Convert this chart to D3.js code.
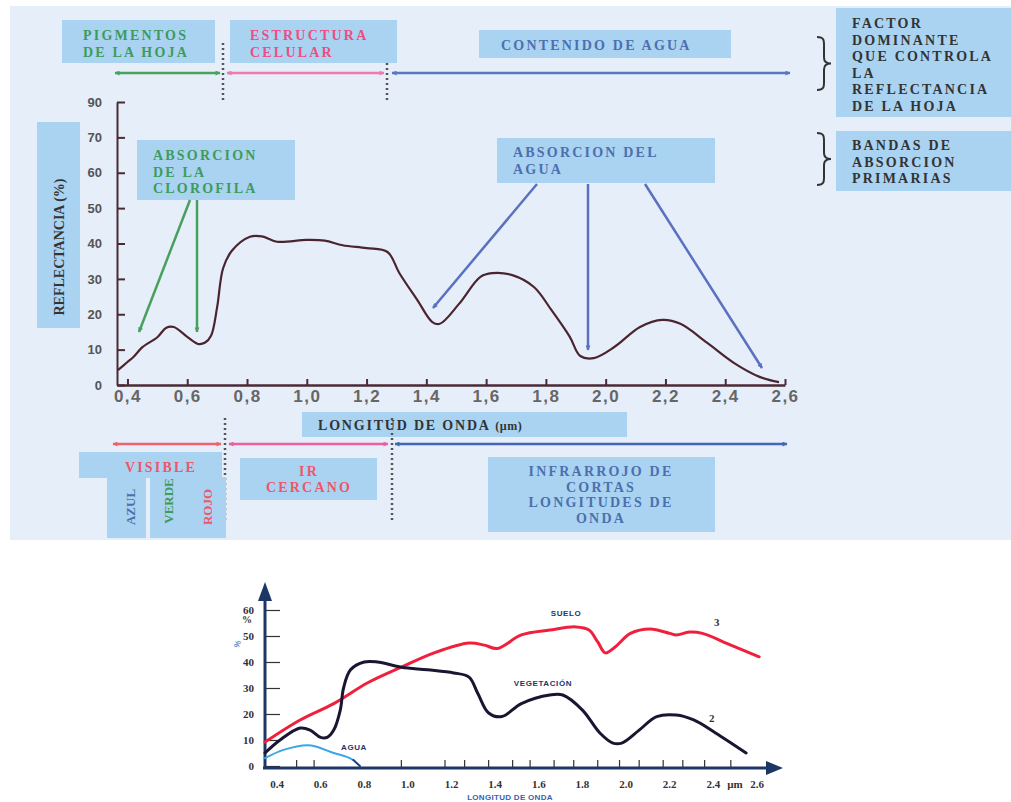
<!DOCTYPE html>
<html>
<head>
<meta charset="utf-8">
<script src="https://cdn.jsdelivr.net/npm/d3@7"></script>
<style>
  body { margin: 0; background: #fff; }
  svg { display: block; }
</style>
</head>
<body>
<div id="chart"></div>
<script>
// ---- datos del grafico superior (reflectancia de la hoja) ----
const hojaLongitud = [0.368, 0.40, 0.42, 0.45, 0.50, 0.53, 0.555, 0.60, 0.636, 0.66, 0.68, 0.70, 0.72, 0.75,
  0.81, 0.85, 0.90, 1.00, 1.06, 1.12, 1.20, 1.27, 1.31, 1.37, 1.42, 1.445, 1.51, 1.58, 1.62, 1.69,
  1.76, 1.82, 1.88, 1.915, 1.96, 2.03, 2.115, 2.19, 2.25, 2.34, 2.43, 2.515, 2.58];
const hojaReflectancia = [4.2, 6.5, 7.9, 10.7, 13.5, 16.2, 16.4, 13.6, 11.6, 12.0, 14, 22, 33, 38,
  41.9, 42, 40.5, 41, 40.8, 39.5, 38.7, 37.6, 31.6, 24, 17.8, 17.3, 23, 30.5, 31.6, 31,
  27.7, 21, 13.6, 8.2, 7.6, 10.8, 16.4, 18.4, 17.3, 11.9, 6.2, 2.3, 0.8];

const yTicks = [0, 10, 20, 30, 40, 50, 60, 70, 80];
const yTickLabels = ["0", "10", "20", "30", "40", "50", "60", "70", "90"];
const xTicks = [0.4, 0.6, 0.8, 1.0, 1.2, 1.4, 1.6, 1.8, 2.0, 2.2, 2.4, 2.6];
const xTickLabels = ["0,4", "0,6", "0,8", "1,0", "1,2", "1,4", "1,6", "1,8", "2,0", "2,2", "2,4", "2,6"];

// ---- datos del grafico inferior (suelo, vegetacion, agua) ----
const sueloLongitud = [0.345, 0.506, 0.66, 0.816, 0.97, 1.12, 1.28, 1.35, 1.41, 1.52, 1.65, 1.77, 1.83, 1.87,
  1.905, 1.95, 2.02, 2.11, 2.20, 2.23, 2.29, 2.35, 2.48, 2.61];
const sueloValor = [9.2, 17.7, 24, 32, 38, 43.5, 47.3, 46.5, 45.2, 50.4, 52.3, 53.5, 52.3, 47.7,
  43.5, 45.8, 51, 52.7, 51, 50.4, 51.5, 51, 46.5, 42];
const vegLongitud = [0.345, 0.414, 0.506, 0.552, 0.60, 0.63, 0.66, 0.69, 0.705, 0.737, 0.80, 0.86, 0.97, 1.09,
  1.21, 1.28, 1.32, 1.37, 1.43, 1.52, 1.65, 1.71, 1.80, 1.88, 1.94, 1.98, 2.06, 2.14, 2.23, 2.31, 2.41, 2.55];
const vegValor = [5, 10, 14.6, 13.8, 11, 11, 13.8, 21.5, 30, 37, 40, 40, 38, 37,
  35.8, 34.2, 28, 20.4, 19, 24, 27.3, 27.3, 21.5, 12.7, 8.8, 8.8, 13.8, 19, 19.6, 17.7, 12.7, 5];
const aguaLongitud = [0.345, 0.43, 0.54, 0.585, 0.66, 0.72, 0.75];
const aguaValor = [3, 6.2, 8, 7.3, 5, 3.5, 2.3];
const aguaFinLongitud = [0.75, 0.78];
const aguaFinValor = [2.3, 0];

const y2Ticks = [0, 10, 20, 30, 40, 50, 60];
const x2Ticks = [0.4, 0.6, 0.8, 1.0, 1.2, 1.4, 1.6, 1.8, 2.0, 2.2, 2.4, 2.6];
const x2TickLabels = ["0.4", "0.6", "0.8", "1.0", "1.2", "1.4", "1.6", "1.8", "2.0", "2.2", "2.4", "2.6"];
const x2Menores = [0.49, 0.57, 0.97, 1.17, 1.26, 1.37, 1.48, 1.56, 1.67, 1.76, 1.87, 1.97, 2.06, 2.17, 2.26, 2.36, 2.48];

const width = 1011, height = 802;
const caja = "#a9d3f1";
const serif = "'Liberation Serif', 'DejaVu Serif', serif";
const sans = "'Liberation Sans', Arial, sans-serif";

const svg = d3.select("#chart").append("svg")
  .attr("width", width)
  .attr("height", height);

// fondo del grafico superior
svg.append("rect")
  .attr("x", 10).attr("y", 6).attr("width", 1001).attr("height", 534)
  .attr("fill", "#e6eef9");

const defs = svg.append("defs");
function flecha(id, color) {
  defs.append("marker")
    .attr("id", id)
    .attr("viewBox", "0 0 10 10")
    .attr("refX", 9).attr("refY", 5)
    .attr("markerWidth", 6).attr("markerHeight", 5)
    .attr("markerUnits", "userSpaceOnUse")
    .attr("orient", "auto-start-reverse")
    .append("path")
    .attr("d", "M0,0 L10,5 L0,10 z")
    .attr("fill", color);
}

function rect(x, y, w, h) {
  svg.append("rect")
    .attr("x", x).attr("y", y).attr("width", w).attr("height", h)
    .attr("fill", caja);
}

function texto(lineas, x, y, color, opts = {}) {
  const t = svg.append("text")
    .attr("x", x).attr("y", y)
    .attr("fill", color)
    .attr("font-family", serif)
    .attr("font-weight", "bold")
    .attr("font-size", (opts.size || 14) + "px")
    .attr("letter-spacing", opts.spacing == null ? 2.2 : opts.spacing)
    .attr("text-anchor", opts.anchor || "start");
  lineas.forEach((l, i) => {
    t.append("tspan").attr("x", x).attr("y", y + i * (opts.lh || 16.5)).text(l);
  });
  return t;
}

function doble(x1, x2, y, color, id) {
  flecha(id, color);
  svg.append("line")
    .attr("x1", x1).attr("x2", x2).attr("y1", y).attr("y2", y)
    .attr("stroke", color).attr("stroke-width", 2.5)
    .attr("marker-start", `url(#${id})`)
    .attr("marker-end", `url(#${id})`);
}

function punteada(x, y1, y2) {
  svg.append("line")
    .attr("x1", x).attr("x2", x).attr("y1", y1).attr("y2", y2)
    .attr("stroke", "#555").attr("stroke-width", 2.5)
    .attr("stroke-dasharray", "2,3");
}

function llave(x, y0, y1) {
  const ym = (y0 + y1) / 2;
  svg.append("path")
    .attr("d", `M${x},${y0} C${x + 8},${y0} ${x + 7},${y0 + 4} ${x + 7},${y0 + 12} L${x + 7},${ym - 6}
      C${x + 7},${ym - 1} ${x + 10},${ym} ${x + 14},${ym} C${x + 10},${ym} ${x + 7},${ym + 1} ${x + 7},${ym + 6}
      L${x + 7},${y1 - 12} C${x + 7},${y1 - 4} ${x + 8},${y1} ${x},${y1}`)
    .attr("fill", "none").attr("stroke", "#333").attr("stroke-width", 2);
}

function apunta(x1, y1, x2, y2, color, id) {
  flecha(id, color);
  svg.append("line")
    .attr("x1", x1).attr("y1", y1).attr("x2", x2).attr("y2", y2)
    .attr("stroke", color).attr("stroke-width", 2.5)
    .attr("marker-end", `url(#${id})`);
}

// ---- cabecera ----
rect(62, 20, 153, 43);
texto(["PIGMENTOS", "DE LA HOJA"], 83, 40, "#3f9b5c");
rect(230, 20, 167, 43);
texto(["ESTRUCTURA", "CELULAR"], 250, 40, "#ee4d84");
rect(479, 30, 252, 28);
texto(["CONTENIDO DE AGUA"], 501, 50, "#4d6fae");
rect(836, 8, 175, 109);
texto(["FACTOR", "DOMINANTE", "QUE CONTROLA", "LA", "REFLECTANCIA", "DE LA HOJA"], 852, 28, "#333");
rect(836, 131, 175, 60);
texto(["BANDAS DE", "ABSORCION", "PRIMARIAS"], 852, 150, "#333");
llave(817, 37, 90);
llave(817, 133, 185);

doble(115, 220, 73, "#4aa35c", "fVerde");
doble(227, 384, 73, "#f07aaf", "fRosa");
doble(392, 790, 73, "#5a78c0", "fAzul");
punteada(223, 43, 100);
punteada(387, 63, 100);

// ---- grafico superior ----
const x = d3.scaleLinear().domain([0.365, 2.6]).range([117, 785]);
const y = d3.scaleLinear().domain([0, 80]).range([385, 102]);
const ejeColor = "#4a2a35";

rect(37, 122, 43, 206);
svg.append("text")
  .attr("transform", "translate(64,247) rotate(-90)")
  .attr("text-anchor", "middle")
  .attr("font-family", serif).attr("font-weight", "bold").attr("font-size", "14px")
  .attr("fill", "#333")
  .text("REFLECTANCIA (%)");

const gy = svg.append("g")
  .attr("transform", "translate(117,0)")
  .call(d3.axisLeft(y).tickValues(yTicks).tickSize(-8).tickSizeOuter(0).tickPadding(15)
    .tickFormat((d, i) => yTickLabels[i]));
gy.select(".domain").attr("stroke", ejeColor).attr("stroke-width", 2);
gy.selectAll(".tick line").attr("stroke", ejeColor).attr("stroke-width", 2);
gy.selectAll(".tick text").attr("font-family", sans).attr("font-weight", "bold")
  .attr("font-size", "13px").attr("fill", "#555");

const gx = svg.append("g")
  .attr("transform", "translate(0,385)")
  .call(d3.axisBottom(x).tickValues(xTicks).tickSize(-6).tickSizeOuter(0).tickPadding(5)
    .tickFormat((d, i) => xTickLabels[i]));
gx.select(".domain").attr("stroke", ejeColor).attr("stroke-width", 2.5);
gx.selectAll(".tick line").attr("stroke", ejeColor).attr("stroke-width", 2);
gx.selectAll(".tick text").attr("font-family", sans).attr("font-weight", "bold")
  .attr("font-size", "17px").attr("letter-spacing", 1.5).attr("fill", "#666");

const linea = d3.line()
  .x(d => x(d[0]))
  .y(d => y(d[1]))
  .curve(d3.curveCatmullRom);

svg.append("path")
  .datum(d3.zip(hojaLongitud, hojaReflectancia))
  .attr("d", linea)
  .attr("fill", "none")
  .attr("stroke", "#4a2530")
  .attr("stroke-width", 2.2);

// anotaciones
rect(137, 140, 158, 60);
texto(["ABSORCION", "DE LA", "CLOROFILA"], 153, 160, "#3f9b5c");
apunta(190, 200, 139, 332, "#48a05e", "fClo1");
apunta(197, 200, 197, 332, "#48a05e", "fClo2");

rect(497, 138, 218, 45);
texto(["ABSORCION DEL", "AGUA"], 513, 157, "#4d6fae");
apunta(537, 184, 433, 308, "#5a70c0", "fAg1");
apunta(588, 184, 588, 350, "#5a70c0", "fAg2");
apunta(645, 184, 762, 368, "#5a70c0", "fAg3");

// ---- etiquetas bajo el eje ----
rect(302, 412, 325, 25);
const lon = texto(["LONGITUD DE ONDA "], 318, 430, "#333", { spacing: 1.8 });
lon.append("tspan").attr("font-size", "12px").attr("letter-spacing", 0.5).text(" (\u00b5m)");

doble(113, 221, 444, "#f06070", "fRojo");
doble(229, 388, 444, "#ec5fa0", "fRosa2");
doble(395, 787, 444, "#4466b8", "fAzul2");
punteada(225, 418, 522);
punteada(392, 418, 522);

rect(79, 452, 143, 26);
rect(107, 477, 39, 61);
rect(150, 477, 76, 61);
texto(["VISIBLE"], 161, 472, "#f0566a", { anchor: "middle" });
[["AZUL", 130, 507, "#4d6fae"], ["VERDE", 168, 501, "#3f9b5c"], ["ROJO", 207, 507, "#f0566a"]].forEach(([t, cx, cy, c]) => {
  svg.append("text")
    .attr("transform", `translate(${cx + 5},${cy}) rotate(-90)`)
    .attr("text-anchor", "middle")
    .attr("font-family", serif).attr("font-weight", "bold").attr("font-size", "13px")
    .attr("fill", c)
    .text(t);
});

rect(240, 458, 137, 42);
texto(["IR", "CERCANO"], 309, 476, "#f0566a", { anchor: "middle", lh: 16 });
rect(488, 457, 227, 75);
texto(["INFRARROJO DE", "CORTAS", "LONGITUDES DE", "ONDA"], 601, 476, "#4d6fae", { anchor: "middle", lh: 15.7 });

// ---- grafico inferior ----
const x2 = d3.scaleLinear().domain([0.345, 2.6]).range([265, 757]);
const y2 = d3.scaleLinear().domain([0, 60]).range([766, 610]);
const navy = "#1c3766";

const gy2 = svg.append("g")
  .attr("transform", "translate(265,0)")
  .call(d3.axisLeft(y2).tickValues(y2Ticks).tickSize(-15).tickSizeOuter(0).tickPadding(11));
gy2.select(".domain").remove();
gy2.selectAll(".tick line").attr("stroke", "#333").attr("stroke-width", 1.2);
gy2.selectAll(".tick text").attr("font-family", serif).attr("font-weight", "bold")
  .attr("font-size", "11px").attr("fill", "#333");

// ejes con flecha
svg.append("line").attr("x1", 265).attr("x2", 265).attr("y1", 769).attr("y2", 598)
  .attr("stroke", navy).attr("stroke-width", 3);
svg.append("path").attr("d", "M258,601 L265,582 L272,601 Z").attr("fill", navy);
svg.append("line").attr("x1", 263).attr("x2", 768).attr("y1", 768).attr("y2", 768)
  .attr("stroke", navy).attr("stroke-width", 3);
svg.append("path").attr("d", "M766,761 L783,768 L766,775 Z").attr("fill", navy);

svg.selectAll(".menor").data(x2Menores).join("line")
  .attr("class", "menor")
  .attr("x1", d => x2(d)).attr("x2", d => x2(d))
  .attr("y1", 760).attr("y2", 767)
  .attr("stroke", "#333").attr("stroke-width", 1.2);

svg.selectAll(".x2lab").data(x2Ticks).join("text")
  .attr("class", "x2lab")
  .attr("x", d => x2(d)).attr("y", 788)
  .attr("text-anchor", "middle")
  .attr("font-family", serif).attr("font-weight", "bold").attr("font-size", "11px")
  .attr("fill", "#333")
  .text((d, i) => x2TickLabels[i]);

svg.append("text").attr("x", 735).attr("y", 788).attr("text-anchor", "middle")
  .attr("font-family", serif).attr("font-weight", "bold").attr("font-size", "11px")
  .attr("fill", "#333").text("\u00b5m");
svg.append("text").attr("x", 247).attr("y", 623).attr("text-anchor", "middle")
  .attr("font-family", serif).attr("font-weight", "bold").attr("font-size", "10px")
  .attr("fill", "#333").text("%");
svg.append("text").attr("transform", "translate(240,645) rotate(-70)").attr("text-anchor", "middle")
  .attr("font-family", sans).attr("font-size", "8px")
  .attr("fill", "#3a60b0").text("%");
svg.append("text").attr("x", 510).attr("y", 800).attr("text-anchor", "middle")
  .attr("font-family", sans).attr("font-weight", "bold").attr("font-size", "8px")
  .attr("letter-spacing", 0.3).attr("fill", "#3a5fb0").text("LONGITUD DE ONDA");

const linea2 = d3.line()
  .x(d => x2(d[0]))
  .y(d => y2(d[1]))
  .curve(d3.curveCatmullRom);

const series2 = [
  { lon: aguaLongitud, val: aguaValor, color: "#3aa6e8", w: 2 },
  { lon: aguaFinLongitud, val: aguaFinValor, color: "#1c3a8a", w: 2 },
  { lon: sueloLongitud, val: sueloValor, color: "#f0203c", w: 3 },
  { lon: vegLongitud, val: vegValor, color: "#1a1530", w: 3 }
];
svg.selectAll(".serie2").data(series2).join("path")
  .attr("class", "serie2")
  .attr("d", s => linea2(d3.zip(s.lon, s.val)))
  .attr("fill", "none")
  .attr("stroke", s => s.color)
  .attr("stroke-width", s => s.w)
  .attr("stroke-linecap", "round");

function etiqueta(t, x, y, opts = {}) {
  svg.append("text").attr("x", x).attr("y", y).attr("text-anchor", "middle")
    .attr("font-family", opts.font || sans).attr("font-weight", "bold")
    .attr("font-size", (opts.size || 8) + "px").attr("letter-spacing", opts.spacing || 0.6)
    .attr("fill", opts.color || navy).text(t);
}
etiqueta("SUELO", 566, 616);
etiqueta("VEGETACI\u00d3N", 543, 686);
etiqueta("AGUA", 354, 750);
etiqueta("3", 717, 626, { font: serif, size: 11, color: "#333", spacing: 0 });
etiqueta("2", 712, 722, { font: serif, size: 11, color: "#333", spacing: 0 });
</script>
</body>
</html>
